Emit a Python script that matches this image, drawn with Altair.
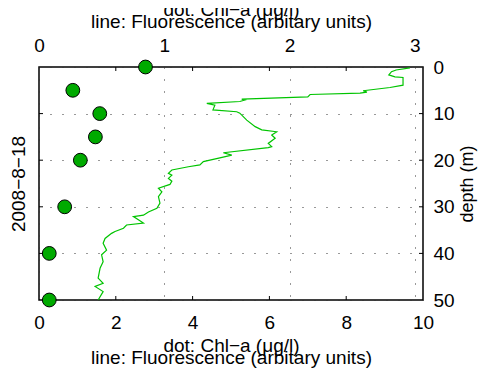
import altair as alt
import pandas as pd

# Chl-a dots (top axis, 0-3)
chl_depth = [0, 5, 10, 15, 20, 30, 40, 50]
chl_value = [0.85, 0.27, 0.485, 0.45, 0.33, 0.205, 0.082, 0.082]

# Fluorescence profile (bottom axis, 0-10)
fl_depth = [0.2, 0.64, 1.0, 1.7, 2.1, 2.25, 3.9, 4.4, 5.1, 5.4, 5.6, 5.9, 6.4, 6.9, 7.1, 7.4,
            7.8, 8.2, 9.2, 9.6, 9.9, 11.4, 12.8, 13.5, 13.9, 14.6, 15.3, 16.4, 17.1, 17.3,
            18.4, 18.9, 19.5, 20.3, 21.0, 21.4, 22.1, 22.8, 23.2, 23.9, 24.5, 25.2, 26.0,
            26.8, 27.8, 29.2, 30.3, 31.1, 31.8, 32.1, 33.5, 33.9, 34.6, 35.3, 35.7, 36.8,
            37.8, 39.3, 40.3, 41.8, 43.2, 45.3, 46.4, 47.1, 48.2, 50.0]
fl_value = [9.66, 9.30, 9.18, 9.11, 9.27, 9.48, 9.48, 9.14, 8.44, 8.54, 8.36, 7.06, 7.00, 5.28, 5.36, 5.23,
            4.37, 4.58, 4.53, 5.15, 5.23, 5.41, 5.63, 5.80, 6.19, 6.06, 6.15, 5.97, 6.06, 5.97,
            4.80, 5.02, 4.71, 4.28, 4.19, 3.89, 3.46, 3.37, 3.46, 3.37, 3.46, 3.41, 3.11,
            3.20, 3.11, 3.15, 3.07, 2.85, 2.72, 2.46, 2.72, 2.28, 2.20, 1.98, 1.89, 1.72,
            1.67, 1.76, 1.63, 1.67, 1.59, 1.54, 1.67, 1.46, 1.67, 1.54]

bottom_ticks = [0, 2, 4, 6, 8, 10]
top_ticks = [0, 1, 2, 3]
depth_ticks = [0, 10, 20, 30, 40, 50]
inner_x_ticks = [2, 4, 6, 8]
inner_y_ticks = [10, 20, 30, 40]

W, H = 384, 233
FONT = "Liberation Sans"
TITLE2 = ["dot: Chl\u2212a (\u03bcg/l)", "line: Fluorescence (arbitary units)"]

chl_df = pd.DataFrame({"depth": chl_depth, "chl": chl_value})
fl_df = pd.DataFrame({"depth": fl_depth, "fl": fl_value, "i": list(range(len(fl_depth)))})
xt_df = pd.DataFrame({"v": inner_x_ticks})
yt_df = pd.DataFrame({"d": inner_y_ticks})

xs_bottom = alt.Scale(domain=[0, 10], nice=False, zero=False)
xs_top = alt.Scale(domain=[0, 3.065], nice=False, zero=False)
ys = alt.Scale(domain=[0, 50], reverse=True, nice=False, zero=False)

line = alt.Chart(fl_df).mark_line(color="#00c400", strokeWidth=1.2).encode(
    x=alt.X("fl:Q", scale=xs_bottom,
            axis=alt.Axis(orient="bottom", values=bottom_ticks, tickSize=0, domain=False, grid=False,
                          labelFlush=False, labelOverlap=False, labelPadding=13, labelFontSize=19,
                          labelColor="black", title=TITLE2, titleFontSize=19, titleFontWeight="normal",
                          titleLineHeight=12, titlePadding=4, titleColor="black")),
    y=alt.Y("depth:Q", scale=ys,
            axis=alt.Axis(orient="right", values=depth_ticks, tickSize=0, domain=False, grid=True,
                          gridDash=[1, 11], gridColor="#333", gridWidth=1,
                          labelFlush=False, labelOverlap=False, labelPadding=10, labelFontSize=19,
                          labelColor="black", title="depth (m)", titleAngle=270, titleFontSize=18,
                          titleFontWeight="normal", titlePadding=22, titleColor="black")),
    order="i:Q",
)

dots = alt.Chart(chl_df).mark_point(filled=True, shape="circle", size=190, fill="#00aa00",
                                    stroke="black", strokeWidth=1, opacity=1).encode(
    x=alt.X("chl:Q", scale=xs_top,
            axis=alt.Axis(orient="top", values=top_ticks, tickSize=0, domain=False, grid=True,
                          gridDash=[1, 11], gridColor="#333", gridWidth=1,
                          labelFlush=False, labelOverlap=False, labelPadding=12, labelFontSize=19,
                          labelColor="black", title=TITLE2, titleFontSize=19, titleFontWeight="normal",
                          titleLineHeight=12, titlePadding=5, titleColor="black")),
    y=alt.Y("depth:Q", scale=ys,
            axis=alt.Axis(orient="left", values=depth_ticks, tickSize=0, domain=False, grid=False,
                          labels=False, title="2008\u22128\u221218", titleFontSize=19,
                          titleFontWeight="normal", titlePadding=10, titleColor="black")),
)

tick_top = alt.Chart(xt_df).mark_rule(color="black", strokeWidth=1).encode(
    x=alt.X("v:Q", scale=xs_bottom, axis=None), y=alt.value(0), y2=alt.value(4))
tick_bot = alt.Chart(xt_df).mark_rule(color="black", strokeWidth=1).encode(
    x=alt.X("v:Q", scale=xs_bottom, axis=None), y=alt.value(H - 4), y2=alt.value(H))
tick_left = alt.Chart(yt_df).mark_rule(color="black", strokeWidth=1).encode(
    y=alt.Y("d:Q", scale=ys, axis=None), x=alt.value(0), x2=alt.value(4))
tick_right = alt.Chart(yt_df).mark_rule(color="black", strokeWidth=1).encode(
    y=alt.Y("d:Q", scale=ys, axis=None), x=alt.value(W - 4), x2=alt.value(W))

chart = alt.layer(line, dots, tick_top, tick_bot, tick_left, tick_right).resolve_scale(
    x="independent", y="independent"
).properties(
    width=W, height=H,
    autosize=alt.AutoSizeParams(type="none"),
    padding={"left": 31, "top": 59, "right": 55, "bottom": 68},
    background="white",
).configure(font=FONT).configure_view(stroke="black", strokeWidth=1.5)

chart.save("out.html", embed_options={"renderer": "svg", "actions": False})
